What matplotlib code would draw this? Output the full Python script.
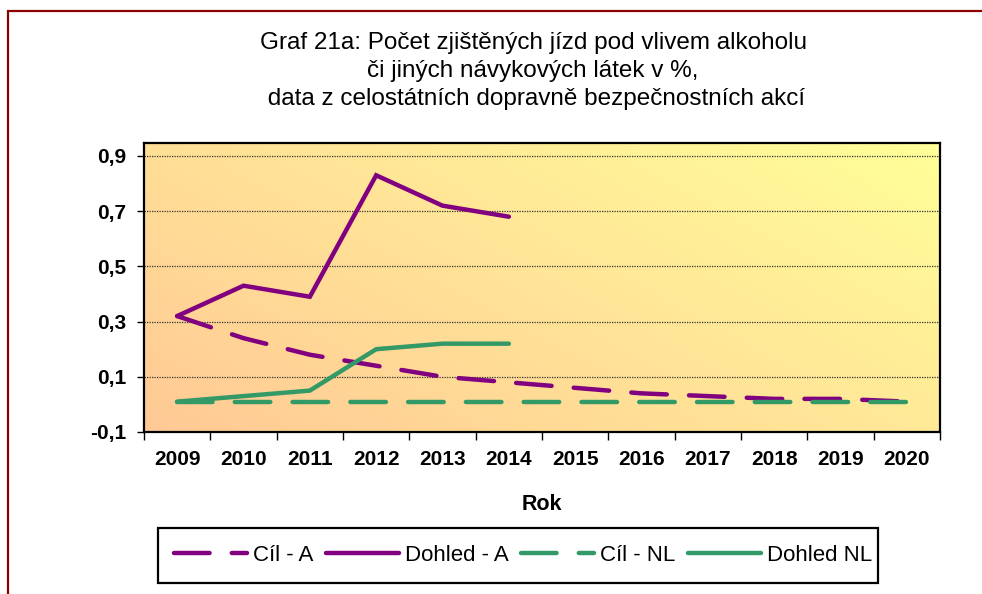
import matplotlib
matplotlib.use("Agg")
import matplotlib.pyplot as plt
import numpy as np
from matplotlib.colors import to_rgb
from matplotlib.patches import Rectangle

plt.rcParams['font.family'] = ['Liberation Sans', 'DejaVu Sans']

# data
years = ['2009', '2010', '2011', '2012', '2013', '2014',
         '2015', '2016', '2017', '2018', '2019', '2020']
cil_a = [0.32, 0.24, 0.18, 0.14, 0.10, 0.08, 0.06, 0.04, 0.03, 0.02, 0.02, 0.01]
dohled_a = [0.32, 0.43, 0.39, 0.83, 0.72, 0.68]
cil_nl = [0.01] * 12
dohled_nl = [0.01, 0.03, 0.05, 0.20, 0.22, 0.22]
y_ticks = [-0.1, 0.1, 0.3, 0.5, 0.7, 0.9]

purple = '#800080'
green = '#339966'

fig = plt.figure(figsize=(9.82, 5.94), dpi=100)
ax = fig.add_axes([144/982, 1 - 432/594, 796/982, 289/594])

# diagonal orange -> yellow gradient of the plot area
c0 = np.array(to_rgb('#FFC995'))
c1 = np.array(to_rgb('#FFFF99'))
u, v = np.meshgrid(np.linspace(0, 1, 200), np.linspace(0, 1, 100))
t = (u * 0.6 + v * 0.4)
grad = c0[None, None, :] * (1 - t[..., None]) + c1[None, None, :] * t[..., None]
ax.imshow(grad, extent=[0, 1, 0, 1], transform=ax.transAxes, origin='lower',
          aspect='auto', zorder=0)

x = np.arange(len(years))
dash = (0, (8, 5))
ax.plot(x[:len(cil_a)], cil_a, color=purple, lw=3.2, linestyle=dash,
        dash_capstyle='round', solid_capstyle='round', label='Cíl - A', zorder=3)
ax.plot(x[:len(dohled_a)], dohled_a, color=purple, lw=3.2,
        solid_capstyle='round', solid_joinstyle='miter', label='Dohled - A', zorder=3)
ax.plot(x[:len(cil_nl)], cil_nl, color=green, lw=3.2, linestyle=dash,
        dash_capstyle='round', label='Cíl - NL', zorder=3)
ax.plot(x[:len(dohled_nl)], dohled_nl, color=green, lw=3.2,
        solid_capstyle='round', solid_joinstyle='miter', label='Dohled NL', zorder=3)

ax.set_xlim(-0.5, len(years) - 0.5)
ax.set_ylim(-0.1, 0.947)

# category axis: ticks between categories, labels at the centres
ax.set_xticks(np.arange(-0.5, len(years)), labels=[''] * (len(years) + 1))
ax.set_xticks(x, labels=years, minor=True)
ax.tick_params(axis='x', which='major', length=6, width=1, direction='out')
ax.tick_params(axis='x', which='minor', length=0, pad=13)
for lab in ax.get_xticklabels(minor=True):
    lab.set_fontsize(15)
    lab.set_fontweight('bold')

ax.set_yticks(y_ticks, labels=[f'{v:.1f}'.replace('.', ',') for v in y_ticks])
ax.tick_params(axis='y', length=5, width=1, direction='out', pad=8, labelsize=15)
for lab in ax.get_yticklabels():
    lab.set_fontweight('bold')

for yv in y_ticks[1:]:
    ax.axhline(yv, color='#333333', lw=0.9, linestyle=(0, (1, 1)), zorder=1)

for s in ax.spines.values():
    s.set_linewidth(1.6)
    s.set_color('black')
    s.set_zorder(4)

# title lines
title_lines = ['Graf 21a: Počet zjištěných jízd pod vlivem alkoholu',
               'či jiných návykových látek v %,',
               ' data z celostátních dopravně bezpečnostních akcí']
for i, line in enumerate(title_lines):
    fig.text(533/982, 1 - (43.5 + 27.5 * i)/594, line, ha='center', va='center',
             fontsize=17.5)

fig.text(542/982, 1 - 505/594, 'Rok', ha='center', va='center',
         fontsize=15.5, fontweight='bold')

# legend entries without frame, the box is drawn separately
leg = fig.legend(loc='center', bbox_to_anchor=(523/982, 1 - 555.5/594), ncol=4,
                 fontsize=16, handlelength=3.3, handletextpad=0.27,
                 columnspacing=0.55, borderpad=0.2, frameon=False)
fig.patches.append(Rectangle((158/982, 1 - 583/594), 720/982, 55/594,
                             transform=fig.transFigure, fill=False,
                             edgecolor='black', lw=1.6))

# outer dark red chart border (runs off the right and bottom)
fig.patches.append(Rectangle((8/982, -0.05), 1.1, 1.05 - 11/594,
                             transform=fig.transFigure, fill=False,
                             edgecolor='#8B0000', lw=1.6))

fig.savefig('out.png', dpi=100)
